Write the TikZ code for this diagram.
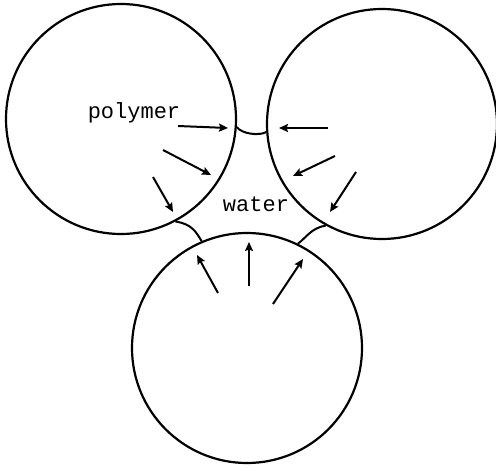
\documentclass[tikz,border=0pt]{standalone}
\usepackage{fontspec}
\setmonofont{Liberation Mono}
\usetikzlibrary{arrows.meta}

\begin{document}
\begin{tikzpicture}[x=1pt,y=-1pt,
drop/.style={circle,draw,line width=2.2pt,inner sep=0pt,minimum size=230pt},
flow/.style={line width=2pt,-{Stealth[length=9pt,width=8pt,inset=1.5pt]}},
neck/.style={line width=2pt},
label/.style={font=\ttfamily\fontsize{22}{22}\selectfont,inner sep=0pt}]
\useasboundingbox (0,0) rectangle (496,466);
\node [drop] (left) at (121,119) {};
\node [drop] (right) at (382,124) {};
\node [drop] (bottom) at (247,348) {};
\node [label] (polymer) at (134,113) {polymer};
\node [label] (water) at (256,204) {water};
\coordinate (l1a) at (178,126); \coordinate (l1b) at (228,128);
\coordinate (l2a) at (163,150); \coordinate (l2b) at (211,175);
\coordinate (l3a) at (153,177); \coordinate (l3b) at (173,212);
\coordinate (r1a) at (328,128); \coordinate (r1b) at (279,128);
\coordinate (r2a) at (335,156); \coordinate (r2b) at (293,176);
\coordinate (r3a) at (356,172); \coordinate (r3b) at (330,212);
\coordinate (b1a) at (218,293); \coordinate (b1b) at (197,255);
\coordinate (b2a) at (249,286); \coordinate (b2b) at (249,242);
\coordinate (b3a) at (273,304); \coordinate (b3b) at (303,259);
\foreach \a/\b in {l1a/l1b,l2a/l2b,l3a/l3b,r1a/r1b,r2a/r2b,r3a/r3b,b1a/b1b,b2a/b2b,b3a/b3b}
    \draw [flow] (\a) -- (\b);
\draw [neck] (left.-4) .. controls (242,134) and (259,136) .. (right.-176);
\draw [neck] (left.-62) .. controls (192,224) and (196,232) .. (bottom.113);
\draw [neck] (right.-119) .. controls (311,228) and (306,238) .. (bottom.64);
\end{tikzpicture}
\end{document}
